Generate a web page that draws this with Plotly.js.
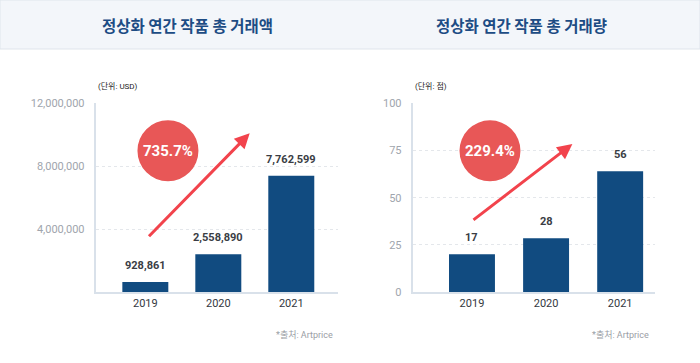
<!DOCTYPE html>
<html>
<head>
<meta charset="utf-8">
<script src="https://cdn.plot.ly/plotly-3.0.1.min.js"></script>
<style>
html,body{margin:0;padding:0;background:#fff;}
#chart{width:700px;height:363px;}
</style>
</head>
<body>
<div id="chart"></div>
<script>
// ---- data ----
const years = ['2019', '2020', '2021'];
const amountValues = [928861, 2558890, 7762599];          // 거래액 (USD), labels
const amountBarHeights = [640000, 2400000, 7400000];      // bar heights as drawn in the picture
const countValues = [17, 28, 56];                          // 거래량 (점), labels
const countBarHeights = [20, 28.5, 64];                    // bar heights as drawn in the picture
const amountTicks = [4000000, 8000000, 12000000];
const countTicks = [0, 25, 50, 75, 100];
const amountGrowth = '735.7%';
const countGrowth = '229.4%';
const titles = ['정상화 연간 작품 총 거래액', '정상화 연간 작품 총 거래량'];
const units = ['(단위: USD)', '(단위: 점)'];
const source = '*출처: Artprice';

// ---- styling ----
const W = 700, H = 363;
const FONT = 'Roboto, "Noto Sans CJK KR", "Noto Sans", sans-serif';
const KFONT = '"Noto Sans CJK KR", "Noto Sans", sans-serif';
const BAR = '#114b80';
const RED = '#e85757';
const ARROW = '#f2434c';
const px = v => v / W;
const py = v => 1 - v / H;

const fmt = n => n.toLocaleString('en-US');

const traces = [
  {type: 'bar', x: [0, 1, 2], y: amountBarHeights, xaxis: 'x', yaxis: 'y',
   marker: {color: BAR}, width: 0.63, hoverinfo: 'skip'},
  {type: 'bar', x: [0, 1, 2], y: countBarHeights, xaxis: 'x2', yaxis: 'y2',
   marker: {color: BAR}, width: 0.62, hoverinfo: 'skip'}
];

const axisCommon = {
  showline: true, linecolor: '#d9e1ea', linewidth: 2,
  zeroline: false, fixedrange: true
};

const layout = {
  width: W, height: H,
  margin: {l: 0, r: 0, t: 0, b: 0},
  paper_bgcolor: '#ffffff', plot_bgcolor: 'rgba(0,0,0,0)',
  showlegend: false,
  font: {family: FONT},
  xaxis: Object.assign({}, axisCommon, {
    domain: [px(95.7), px(338)], range: [-0.68, 2.64],
    tickvals: [0, 1, 2], ticktext: years, showgrid: false,
    tickfont: {size: 11, color: '#333840'}, anchor: 'y'
  }),
  yaxis: Object.assign({}, axisCommon, {
    domain: [py(292), py(103.3)], range: [0, 12000000],
    tickvals: amountTicks, ticktext: amountTicks.map(fmt),
    showgrid: true, gridcolor: '#e4e7eb', griddash: 'dot', gridwidth: 1,
    tickfont: {size: 11, color: '#a0a5ad'}, anchor: 'x',
    ticks: 'outside', ticklen: 7, tickcolor: 'rgba(0,0,0,0)'
  }),
  xaxis2: Object.assign({}, axisCommon, {
    domain: [px(412.7), px(655)], range: [-0.8, 2.47],
    tickvals: [0, 1, 2], ticktext: years, showgrid: false,
    tickfont: {size: 11, color: '#333840'}, anchor: 'y2'
  }),
  yaxis2: Object.assign({}, axisCommon, {
    domain: [py(292), py(103.3)], range: [0, 100],
    tickvals: countTicks, ticktext: countTicks.map(String),
    showgrid: true, gridcolor: '#e4e7eb', griddash: 'dot', gridwidth: 1,
    tickfont: {size: 11, color: '#a0a5ad'}, anchor: 'x2',
    ticks: 'outside', ticklen: 7, tickcolor: 'rgba(0,0,0,0)'
  }),
  shapes: [
    {type: 'rect', xref: 'paper', yref: 'paper', x0: 0, x1: 1, y0: py(49), y1: 1,
     fillcolor: '#f3f6fa', line: {color: '#dfe5ec', width: 1}, layer: 'below'},
    {type: 'circle', xref: 'x', yref: 'y', xsizemode: 'pixel', ysizemode: 'pixel',
     xanchor: 0.31, yanchor: 8980000, x0: -30.5, x1: 30.5, y0: -30.5, y1: 30.5,
     fillcolor: RED, line: {width: 0}},
    {type: 'circle', xref: 'x2', yref: 'y2', xsizemode: 'pixel', ysizemode: 'pixel',
     xanchor: 0.243, yanchor: 74.8, x0: -30.5, x1: 30.5, y0: -30.5, y1: 30.5,
     fillcolor: RED, line: {width: 0}}
  ],
  annotations: []
};

const ann = layout.annotations;
// titles
ann.push({xref: 'paper', yref: 'paper', x: px(187), y: py(25), text: '<b>' + titles[0] + '</b>',
  showarrow: false, font: {size: 15.5, color: '#1d4c84', family: KFONT}, xanchor: 'center', yanchor: 'middle'});
ann.push({xref: 'paper', yref: 'paper', x: px(521), y: py(25), text: '<b>' + titles[1] + '</b>',
  showarrow: false, font: {size: 15.5, color: '#1d4c84', family: KFONT}, xanchor: 'center', yanchor: 'middle'});
// units
ann.push({xref: 'paper', yref: 'paper', x: px(96.5), y: py(86), text: units[0], showarrow: false,
  font: {size: 8, color: '#222'}, xanchor: 'left', yanchor: 'middle'});
ann.push({xref: 'paper', yref: 'paper', x: px(413), y: py(86), text: units[1], showarrow: false,
  font: {size: 8, color: '#222'}, xanchor: 'left', yanchor: 'middle'});
// sources
ann.push({xref: 'paper', yref: 'paper', x: px(335), y: py(334), text: source, showarrow: false,
  font: {size: 9, color: '#9a9ea5'}, xanchor: 'right', yanchor: 'middle'});
ann.push({xref: 'paper', yref: 'paper', x: px(651), y: py(334), text: source, showarrow: false,
  font: {size: 9, color: '#9a9ea5'}, xanchor: 'right', yanchor: 'middle'});
// value labels
years.forEach((yr, i) => {
  ann.push({xref: 'x', yref: 'y', x: i, y: amountBarHeights[i], text: '<b>' + fmt(amountValues[i]) + '</b>',
    showarrow: false, yanchor: 'bottom', yshift: 8, font: {size: 11, color: '#3a3d44'}});
  ann.push({xref: 'x2', yref: 'y2', x: i, y: countBarHeights[i], text: '<b>' + fmt(countValues[i]) + '</b>',
    showarrow: false, yanchor: 'bottom', yshift: 8, font: {size: 11, color: '#3a3d44'}});
});
// growth text in circles
ann.push({xref: 'x', yref: 'y', x: 0.31, y: 8980000, text: '<b>' + amountGrowth + '</b>', showarrow: false,
  font: {size: 15, color: '#ffffff'}});
ann.push({xref: 'x2', yref: 'y2', x: 0.243, y: 74.8, text: '<b>' + countGrowth + '</b>', showarrow: false,
  font: {size: 15, color: '#ffffff'}});
// arrows
ann.push({xref: 'x', yref: 'y', axref: 'x', ayref: 'y', x: 1.43, y: 10090000, ax: 0.03, ay: 3450000,
  text: '', showarrow: true, arrowhead: 2, arrowsize: 1, arrowwidth: 3, arrowcolor: ARROW, standoff: 0});
ann.push({xref: 'x2', yref: 'y2', axref: 'x2', ayref: 'y2', x: 1.355, y: 78.4, ax: 0.0, ay: 37.6,
  text: '', showarrow: true, arrowhead: 2, arrowsize: 1, arrowwidth: 3, arrowcolor: ARROW, standoff: 0});

Plotly.newPlot('chart', traces, layout, {staticPlot: true, displayModeBar: false});
</script>
</body>
</html>
